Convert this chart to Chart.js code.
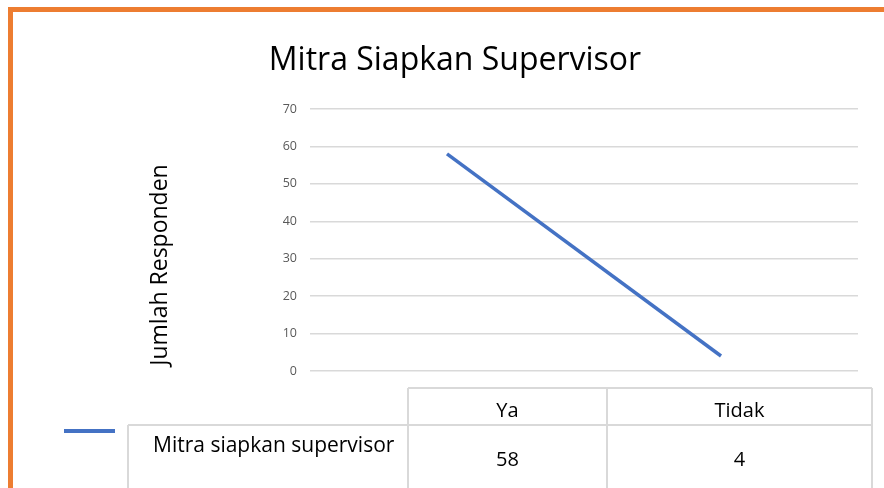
<!DOCTYPE html>
<html lang="id">
<head>
<meta charset="UTF-8">
<title>Mitra Siapkan Supervisor</title>
<script src="https://cdn.jsdelivr.net/npm/chart.js"></script>
<style>
  html, body { margin: 0; padding: 0; background: #fff; }
</style>
</head>
<body>
<canvas id="chart" width="884" height="488"></canvas>
<script>
const chartTitle = 'Mitra Siapkan Supervisor'
const yAxisTitle = 'Jumlah Responden'
const categories = ['Ya', 'Tidak']
const seriesName = 'Mitra siapkan supervisor'
const seriesValues = [58, 4]
const yTicks = [0, 10, 20, 30, 40, 50, 60, 70]

const FONT = '"Open Sans", sans-serif'
const lineBlue = '#4472C4'
const gridGrey = '#d9d9d9'

// frame, axis title, legend key and the data table under the plot
const decor = {
  id: 'decor',
  beforeDraw(chart) {
    const c = chart.ctx
    c.save()
    c.fillStyle = '#fff'
    c.fillRect(0, 0, chart.width, chart.height)
    c.restore()
  },
  afterDraw(chart) {
    const c = chart.ctx
    c.save()

    c.fillStyle = '#ED7D31'
    c.fillRect(8, 7, 876, 5)
    c.fillRect(8, 7, 5, 481)

    c.save()
    c.translate(160, 265)
    c.rotate(-Math.PI / 2)
    c.fillStyle = '#000'
    c.font = '23px ' + FONT
    c.textAlign = 'center'
    c.textBaseline = 'middle'
    c.fillText(yAxisTitle, 0, 0)
    c.restore()

    // table grid
    const cols = [408, 607, 872]
    c.strokeStyle = gridGrey
    c.lineWidth = 2
    c.beginPath()
    c.moveTo(408, 388); c.lineTo(872, 388)
    c.moveTo(128, 425); c.lineTo(872, 425)
    cols.forEach(x => { c.moveTo(x, 388); c.lineTo(x, 488) })
    c.moveTo(128, 425); c.lineTo(128, 488)
    c.stroke()

    // legend key
    c.fillStyle = lineBlue
    c.fillRect(64, 429, 51, 4)

    c.fillStyle = '#000'
    c.font = '20px ' + FONT
    c.textAlign = 'center'
    c.textBaseline = 'alphabetic'
    categories.forEach((cat, i) => {
      const mid = (cols[i] + cols[i + 1]) / 2
      c.fillText(cat, mid, 417)
      c.fillText(String(seriesValues[i]), mid, 466)
    })
    c.textAlign = 'left'
    c.font = '21px ' + FONT
    c.fillText(seriesName, 153, 452)

    c.restore()
  }
}

new Chart(document.getElementById('chart'), {
  type: 'line',
  data: {
    labels: categories,
    datasets: [{
      label: seriesName,
      data: seriesValues,
      borderColor: lineBlue,
      borderWidth: 3.5,
      pointRadius: 0,
      tension: 0
    }]
  },
  options: {
    responsive: false,
    animation: false,
    layout: { padding: { left: 52, right: 26, top: 0, bottom: 117 } },
    plugins: {
      legend: { display: false },
      tooltip: { enabled: false },
      title: {
        display: true,
        text: chartTitle,
        color: '#000',
        font: { family: FONT, size: 32, weight: 'normal' },
        padding: { top: 42, bottom: 28.6 }
      }
    },
    scales: {
      x: {
        display: false,
        offset: true
      },
      y: {
        min: 0,
        max: 70,
        afterBuildTicks: axis => { axis.ticks = yTicks.map(v => ({ value: v })) },
        afterFit: axis => { axis.width = 258 },
        border: { display: false },
        grid: { color: gridGrey, lineWidth: 1.5, drawTicks: false },
        ticks: {
          padding: 13,
          color: '#595959',
          font: { family: FONT, size: 12.5 }
        }
      }
    }
  },
  plugins: [decor]
})
</script>
</body>
</html>
